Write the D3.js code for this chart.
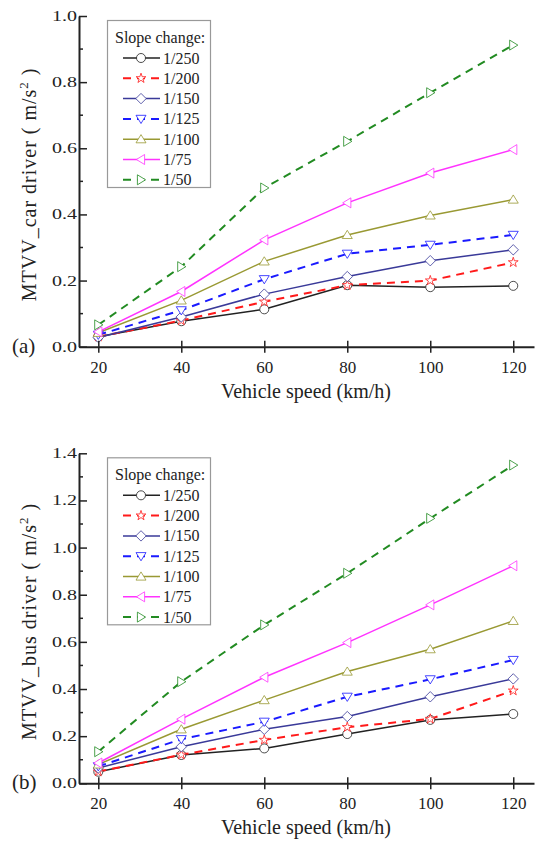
<!DOCTYPE html>
<html>
<head>
<meta charset="utf-8">
<script src="https://cdn.jsdelivr.net/npm/d3@7"></script>
<style>
  body { margin: 0; background: #fff; }
  svg { display: block; }
  text { font-family: "Liberation Serif", "Times New Roman", serif; fill: #222; }
</style>
</head>
<body>
<svg id="chart" width="537" height="841"></svg>
<script>
// Vehicle speeds (km/h) on the x axis
const speeds = [20, 40, 60, 80, 100, 120];
const slopeLabels = ["1/250", "1/200", "1/150", "1/125", "1/100", "1/75", "1/50"];

// MTVV for the car driver (m/s^2), one array per slope change
const car_1_250 = [0.030, 0.077, 0.113, 0.186, 0.180, 0.184];
const car_1_200 = [0.030, 0.079, 0.136, 0.186, 0.200, 0.255];
const car_1_150 = [0.028, 0.090, 0.159, 0.212, 0.260, 0.293];
const car_1_125 = [0.036, 0.110, 0.204, 0.281, 0.308, 0.338];
const car_1_100 = [0.042, 0.140, 0.258, 0.338, 0.397, 0.445];
const car_1_75  = [0.045, 0.167, 0.323, 0.435, 0.525, 0.596];
const car_1_50  = [0.066, 0.242, 0.480, 0.621, 0.768, 0.912];

// MTVV for the bus driver (m/s^2)
const bus_1_250 = [0.049, 0.120, 0.148, 0.209, 0.269, 0.294];
const bus_1_200 = [0.050, 0.121, 0.184, 0.238, 0.273, 0.393];
const bus_1_150 = [0.065, 0.155, 0.229, 0.283, 0.367, 0.443];
const bus_1_125 = [0.072, 0.187, 0.261, 0.367, 0.441, 0.523];
const bus_1_100 = [0.080, 0.229, 0.353, 0.474, 0.569, 0.689];
const bus_1_75  = [0.086, 0.272, 0.450, 0.597, 0.757, 0.923];
const bus_1_50  = [0.134, 0.431, 0.672, 0.891, 1.124, 1.350];

const carYTicks = [0, 0.2, 0.4, 0.6, 0.8, 1.0];
const busYTicks = [0, 0.2, 0.4, 0.6, 0.8, 1.0, 1.2, 1.4];

// Line / marker styling per slope change
const styles = [
  { color: "#222222", dash: null,  marker: "circle" },
  { color: "#ff1a1a", dash: "8,6", marker: "star" },
  { color: "#3a3a99", dash: null,  marker: "diamond" },
  { color: "#1a1aff", dash: "8,6", marker: "triDown" },
  { color: "#999933", dash: null,  marker: "triUp" },
  { color: "#ff33ff", dash: null,  marker: "triLeft" },
  { color: "#228b22", dash: "8,6", marker: "triRight" }
];

const markerPath = {
  circle: () => d3.symbol(d3.symbolCircle, 64)(),
  star: () => d3.symbol(d3.symbolStar, 30)(),
  diamond: () => "M0,-5.2L5.2,0L0,5.2L-5.2,0Z",
  triDown: () => "M-5,-3.6L5,-3.6L0,4.6Z",
  triUp: () => "M-5,3.6L5,3.6L0,-4.6Z",
  triLeft: () => "M3.6,-5L3.6,5L-4.6,0Z",
  triRight: () => "M-3.6,-5L-3.6,5L4.6,0Z"
};

const svg = d3.select("#chart");
svg.append("rect").attr("width", 537).attr("height", 841).attr("fill", "#fff");

function drawPanel(opts) {
  const { values, yMax, yTicks, yRange, tag, yLabel } = opts;
  const x = d3.scaleLinear().domain([15.35, 125]).range([79, 534]);
  const y = d3.scaleLinear().domain([0, yMax]).range(yRange);
  const g = svg.append("g");
  const y0 = y(0);

  // series lines
  const line = d3.line().x((d, i) => x(speeds[i])).y(d => y(d));
  values.forEach((vals, k) => {
    const st = styles[k];
    g.append("path")
      .attr("d", line(vals))
      .attr("fill", "none")
      .attr("stroke", st.color)
      .attr("stroke-width", st.dash ? 2 : 1.5)
      .attr("stroke-dasharray", st.dash);
  });
  // markers
  values.forEach((vals, k) => {
    const st = styles[k];
    g.selectAll(null).data(vals).enter().append("path")
      .attr("transform", (d, i) => `translate(${x(speeds[i])},${y(d)})`)
      .attr("d", markerPath[st.marker]())
      .attr("fill", "#fff")
      .attr("stroke", st.color)
      .attr("stroke-opacity", 0.8)
      .attr("stroke-width", 1);
  });

  // x axis: ticks cross the axis line
  const xAxis = g.append("g")
    .attr("transform", `translate(0,${y0})`)
    .call(d3.axisBottom(x).tickValues(speeds).tickSizeInner(6).tickSizeOuter(0).tickPadding(8));
  xAxis.selectAll(".tick").append("line").attr("y2", -6).attr("stroke", "#222").attr("stroke-width", 1.5);
  xAxis.select(".domain").attr("stroke", "#222").attr("stroke-width", 2);
  xAxis.selectAll(".tick line").attr("stroke", "#222").attr("stroke-width", 1.5);
  xAxis.selectAll(".tick text").attr("font-size", 17).attr("fill", "#222")
    .attr("font-family", "Liberation Serif, serif");

  // y axis: inward major ticks plus minor ticks
  const yAxis = g.append("g")
    .attr("transform", "translate(79,0)")
    .call(d3.axisLeft(y).tickValues(yTicks).tickSizeInner(-8).tickSizeOuter(0).tickPadding(2)
      .tickFormat(d3.format(".1f")));
  yAxis.select(".domain").attr("stroke", "#222").attr("stroke-width", 2);
  yAxis.selectAll(".tick line").attr("stroke", "#222").attr("stroke-width", 1.5);
  yAxis.selectAll(".tick text").attr("font-size", 14).attr("fill", "#222")
    .attr("font-family", "Liberation Serif, serif")
    .attr("textLength", 25).attr("lengthAdjust", "spacingAndGlyphs");
  const minor = d3.range(1, Math.round(yMax * 10), 2).map(v => v / 10);
  yAxis.selectAll(null).data(minor).enter().append("line")
    .attr("x1", 0).attr("x2", 4)
    .attr("y1", d => y(d)).attr("y2", d => y(d))
    .attr("stroke", "#222").attr("stroke-width", 1.5);

  // axis titles
  svg.append("text")
    .attr("x", 306).attr("y", y0 + 51)
    .attr("text-anchor", "middle").attr("font-size", 20)
    .text("Vehicle speed (km/h)");
  const yMid = (yRange[0] + yRange[1]) / 2 + 3;
  const yt = svg.append("text")
    .attr("transform", `translate(36,${yMid}) rotate(-90)`)
    .attr("text-anchor", "middle").attr("font-size", 20)
    .attr("letter-spacing", 1);
  yt.append("tspan").text(yLabel + " ( m/s");
  yt.append("tspan").attr("dy", -8).attr("font-size", 13).text("2");
  yt.append("tspan").attr("dy", 8).text(" )");

  // panel tag
  svg.append("text").attr("x", 12).attr("y", y0 + 6).attr("font-size", 21).text(tag);

  // legend
  const top = yRange[1] + 4;
  const lg = svg.append("g");
  lg.append("rect").attr("x", 107.5).attr("y", top + 0.5).attr("width", 103).attr("height", 167)
    .attr("fill", "#fff").attr("stroke", "#999").attr("stroke-width", 1.2);
  lg.append("text").attr("x", 115).attr("y", top + 23).attr("font-size", 16).text("Slope change:");
  slopeLabels.forEach((lab, k) => {
    const st = styles[k];
    const cy = top + 38 + k * 20.3;
    lg.append("line").attr("x1", 123).attr("x2", 160).attr("y1", cy).attr("y2", cy)
      .attr("stroke", st.color).attr("stroke-width", st.dash ? 2 : 1.5)
      .attr("stroke-dasharray", st.dash);
    lg.append("path").attr("transform", `translate(141,${cy})`)
      .attr("d", markerPath[st.marker]())
      .attr("fill", "#fff").attr("stroke", st.color).attr("stroke-opacity", 0.8).attr("stroke-width", 1);
    lg.append("text").attr("x", 163).attr("y", cy + 5.5).attr("font-size", 16).text(lab);
  });
}

drawPanel({
  values: [car_1_250, car_1_200, car_1_150, car_1_125, car_1_100, car_1_75, car_1_50],
  yMax: 1.0, yTicks: carYTicks, yRange: [346.7, 16], tag: "(a)",
  yLabel: "MTVV_car driver"
});
drawPanel({
  values: [bus_1_250, bus_1_200, bus_1_150, bus_1_125, bus_1_100, bus_1_75, bus_1_50],
  yMax: 1.4, yTicks: busYTicks, yRange: [783.3, 453.3], tag: "(b)",
  yLabel: "MTVV_bus driver"
});
</script>
</body>
</html>
